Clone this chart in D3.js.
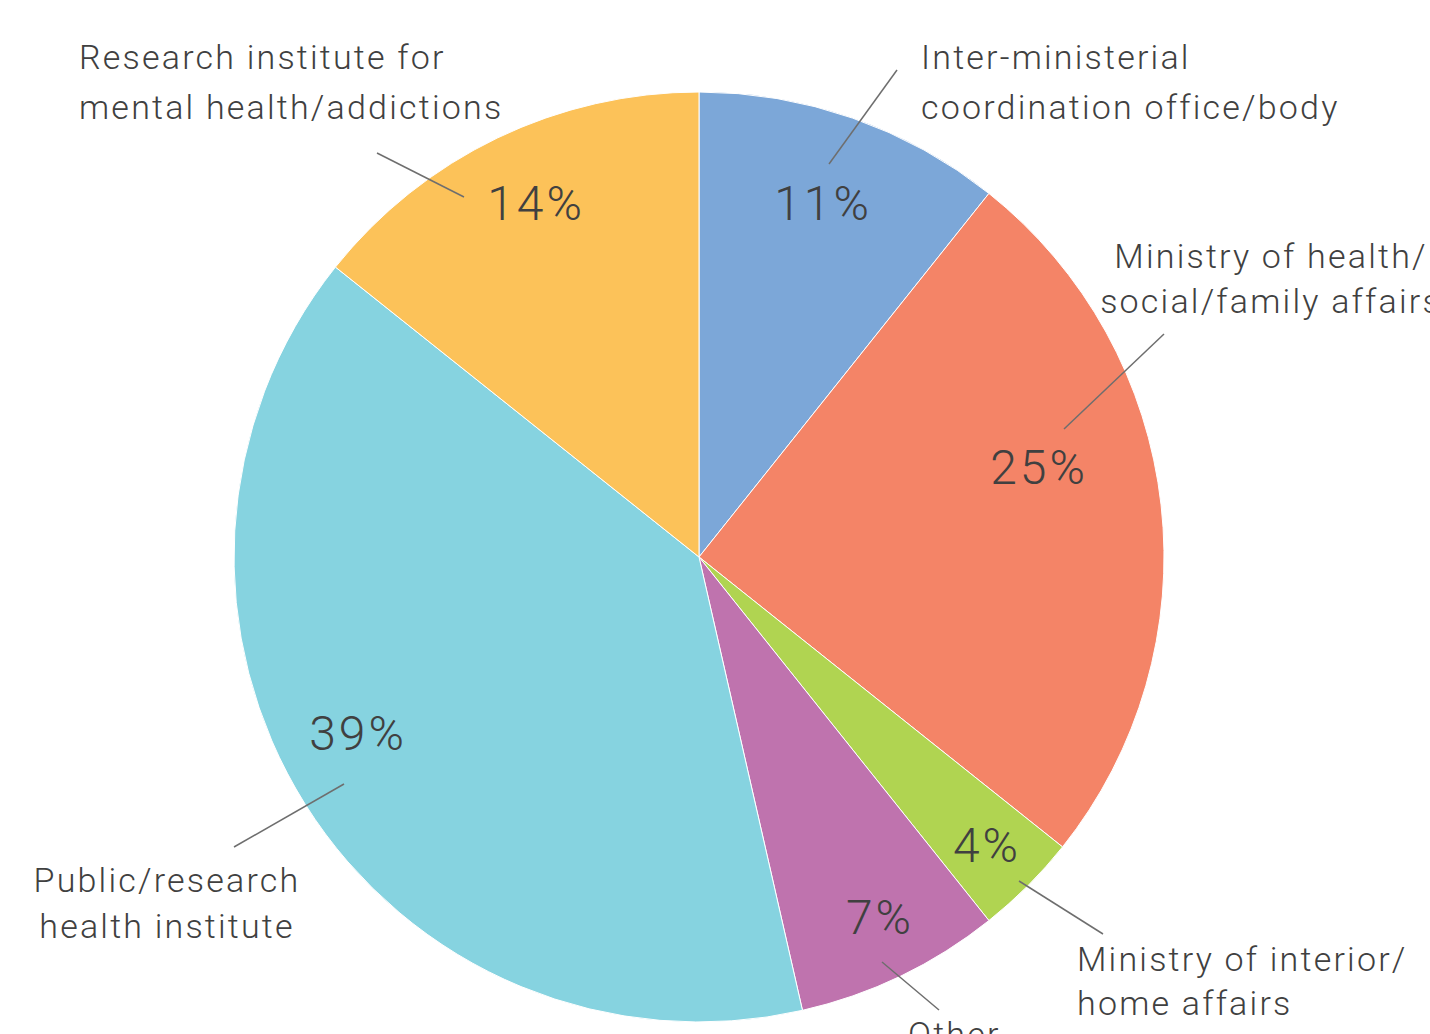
<!DOCTYPE html>
<html>
<head>
<meta charset="utf-8">
<script src="https://cdn.jsdelivr.net/npm/d3@7"></script>
<style>
  html, body { margin: 0; padding: 0; background: #fff; overflow: hidden; }
  text { font-family: Roboto, "Noto Sans", sans-serif; font-weight: 300; fill: #404040; }
</style>
</head>
<body>
<div id="chart"></div>
<script>
// counts of countries per coordinating body (out of 28)
const categories = [
  "Inter-ministerial coordination office/body",
  "Ministry of health/social/family affairs",
  "Ministry of interior/home affairs",
  "Other",
  "Public/research health institute",
  "Research institute for mental health/addictions"
];
const counts = [3, 7, 1, 2, 11, 4];
const colors = ["#7ca7d8", "#f48467", "#b0d451", "#bf73ae", "#86d3e0", "#fcc259"];
// how the category text is broken over lines
const labelLines = [
  ["Inter-ministerial", "coordination office/body"],
  ["Ministry of health/", "social/family affairs"],
  ["Ministry of interior/", "home affairs"],
  ["Other"],
  ["Public/research", "health institute"],
  ["Research institute for", "mental health/addictions"]
];

const width = 1430, height = 1034;
const cx = 699, cy = 557, radius = 465;

// label placement, offsets from the pie centre (dragged labels as in the original)
const pctPos = [[124, -337], [340, -73], [288, 305], [181, 377], [-341, 193], [-163, -337]];
const catPos = [[222, -488], [572, -289], [378, 414], [209, 489], [-532, 335], [-620, -488]];
const catAnchor = ["start", "middle", "start", "start", "middle", "start"];
const lineGap = [50, 45, 44, 46, 46, 50];
const leaders = [
  [[198, -487], [130, -393]],
  [[465, -223], [365, -128]],
  [[320, 324], [404, 377]],
  [[183, 405], [240, 453]],
  [[-355, 227], [-465, 290]],
  [[-322, -404], [-235, -360]]
];

const total = d3.sum(counts);
const data = categories.map((c, i) => ({ name: c, value: counts[i], i: i }));

const svg = d3.select("#chart").append("svg")
  .attr("width", width)
  .attr("height", height);

const g = svg.append("g").attr("transform", `translate(${cx},${cy})`);

const pie = d3.pie().sort(null).value(d => d.value);
const arc = d3.arc().innerRadius(0).outerRadius(radius);

g.selectAll("path.slice")
  .data(pie(data))
  .enter()
  .append("path")
  .attr("class", "slice")
  .attr("d", arc)
  .attr("fill", d => colors[d.data.i])
  .attr("stroke", "#fff")
  .attr("stroke-width", 1);

// leader lines
g.selectAll("line.leader")
  .data(leaders)
  .enter()
  .append("line")
  .attr("x1", d => d[0][0]).attr("y1", d => d[0][1])
  .attr("x2", d => d[1][0]).attr("y2", d => d[1][1])
  .attr("stroke", "#6e6e6e")
  .attr("stroke-width", 1.5);

// percentages
g.selectAll("text.pct")
  .data(data)
  .enter()
  .append("text")
  .attr("class", "pct")
  .attr("x", d => pctPos[d.i][0])
  .attr("y", d => pctPos[d.i][1])
  .attr("text-anchor", "middle")
  .style("font-size", "48px")
  .style("letter-spacing", "3px")
  .text(d => Math.round(d.value / total * 100) + "%");

// category names
const cat = g.selectAll("text.cat")
  .data(data)
  .enter()
  .append("text")
  .attr("class", "cat")
  .attr("text-anchor", d => catAnchor[d.i])
  .style("font-size", "34px")
  .style("letter-spacing", "2.2px");

cat.selectAll("tspan")
  .data(d => labelLines[d.i].map((l, k) => ({ l: l, k: k, i: d.i })))
  .enter()
  .append("tspan")
  .attr("x", d => catPos[d.i][0])
  .attr("y", d => catPos[d.i][1] + d.k * lineGap[d.i])
  .text(d => d.l);
</script>
</body>
</html>
